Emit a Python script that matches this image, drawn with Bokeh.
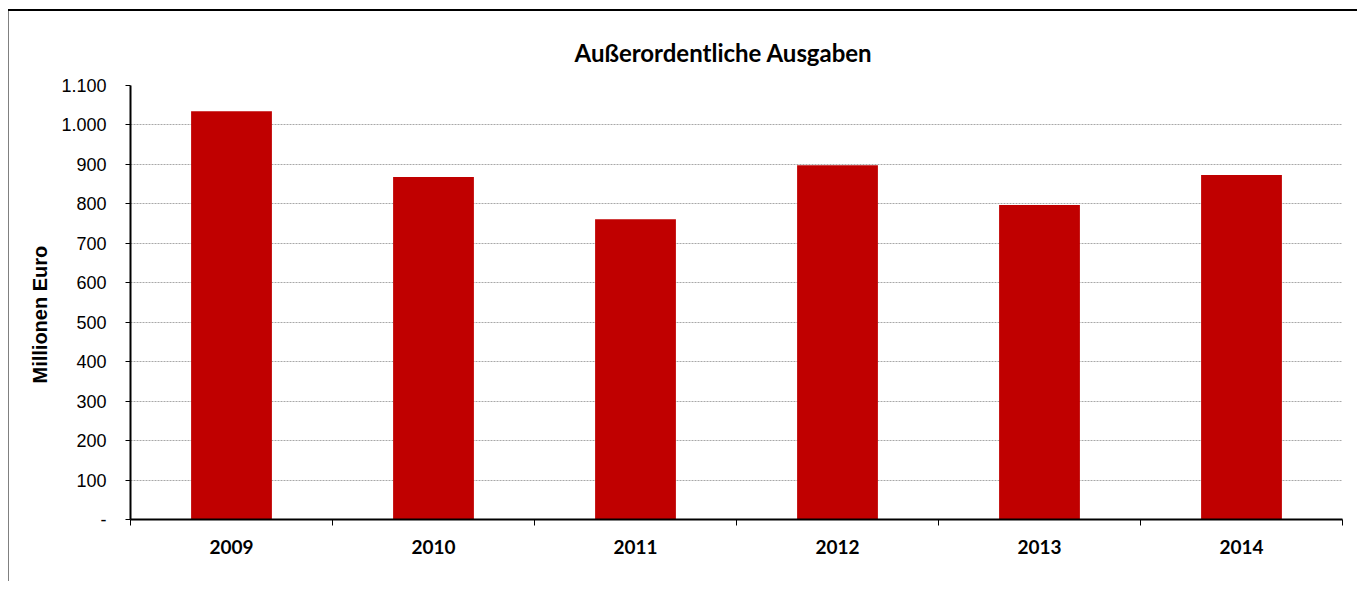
from bokeh.plotting import figure
from bokeh.models import FixedTicker, Range1d, ColumnDataSource, Title
from bokeh.embed import file_html
from bokeh.resources import INLINE

years = ["2009", "2010", "2011", "2012", "2013", "2014"]
values = [1035, 868, 761, 898, 797, 873]
y_ticks = [0, 100, 200, 300, 400, 500, 600, 700, 800, 900, 1000, 1100]
y_tick_labels = ["-", "100", "200", "300", "400", "500", "600", "700", "800", "900", "1.000", "1.100"]

x_pos = [i + 0.5 for i in range(len(years))]
src = ColumnDataSource(dict(x=x_pos, top=values))

bg = ("linear-gradient(#000000, #000000) 8px 9px / 100% 2px no-repeat, "
      "linear-gradient(#808080, #808080) 8px 9px / 1px 100% no-repeat, #ffffff")

p = figure(width=1357, height=581, output_backend="svg", toolbar_location=None,
           x_range=Range1d(0, len(years)), y_range=Range1d(0, 1100),
           min_border_left=130, min_border_right=15, min_border_top=85, min_border_bottom=62,
           styles={"background": bg})

p.vbar(x="x", top="top", width=0.4, source=src, fill_color="#C00000", line_color=None)

p.title.text = "Außerordentliche Ausgaben"
p.title.align = "left"
p.title.offset = 444
p.title.text_font = "Lato"
p.title.text_font_size = "24px"
p.title.text_font_style = "bold"
p.title.text_color = "#000000"
p.title.standoff = 37

p.outline_line_color = None
p.background_fill_color = "white"
p.border_fill_color = None

# x axis: labels at centers, ticks at boundaries
xa = p.xaxis[0]
xa.ticker = FixedTicker(ticks=x_pos, minor_ticks=list(range(len(years) + 1)))
xa.major_label_overrides = {x: y for x, y in zip(x_pos, years)}
xa.major_tick_out = 0
xa.major_tick_in = 0
xa.minor_tick_out = 6
xa.minor_tick_in = 0
xa.minor_tick_line_color = "black"
xa.minor_tick_line_width = 1
xa.axis_line_color = "black"
xa.axis_line_width = 2
xa.major_label_text_font = "Lato"
xa.major_label_text_font_style = "bold"
xa.major_label_text_font_size = "19px"
xa.major_label_text_color = "black"
xa.major_label_standoff = 14

ya = p.yaxis[0]
ya.ticker = FixedTicker(ticks=y_ticks, minor_ticks=[])
ya.major_label_overrides = {t: l for t, l in zip(y_ticks, y_tick_labels)}
ya.major_tick_out = 5
ya.major_tick_in = 0
ya.major_tick_line_color = "black"
ya.axis_line_color = "black"
ya.axis_line_width = 2
ya.major_label_text_font = "Liberation Sans"
ya.major_label_text_font_size = "18px"
ya.major_label_text_color = "black"
ya.major_label_standoff = 19

ytitle = Title(text="Millionen Euro", align="left", offset=136,
               text_font="Liberation Sans", text_font_style="bold",
               text_font_size="20px", text_color="black", standoff=16)
p.add_layout(ytitle, "left")

p.xgrid.grid_line_color = None
p.ygrid.grid_line_color = "#a8a8a8"
p.ygrid.grid_line_dash = "2 1"
p.ygrid.grid_line_width = 1

open("out.html", "w").write(file_html(p, INLINE))
